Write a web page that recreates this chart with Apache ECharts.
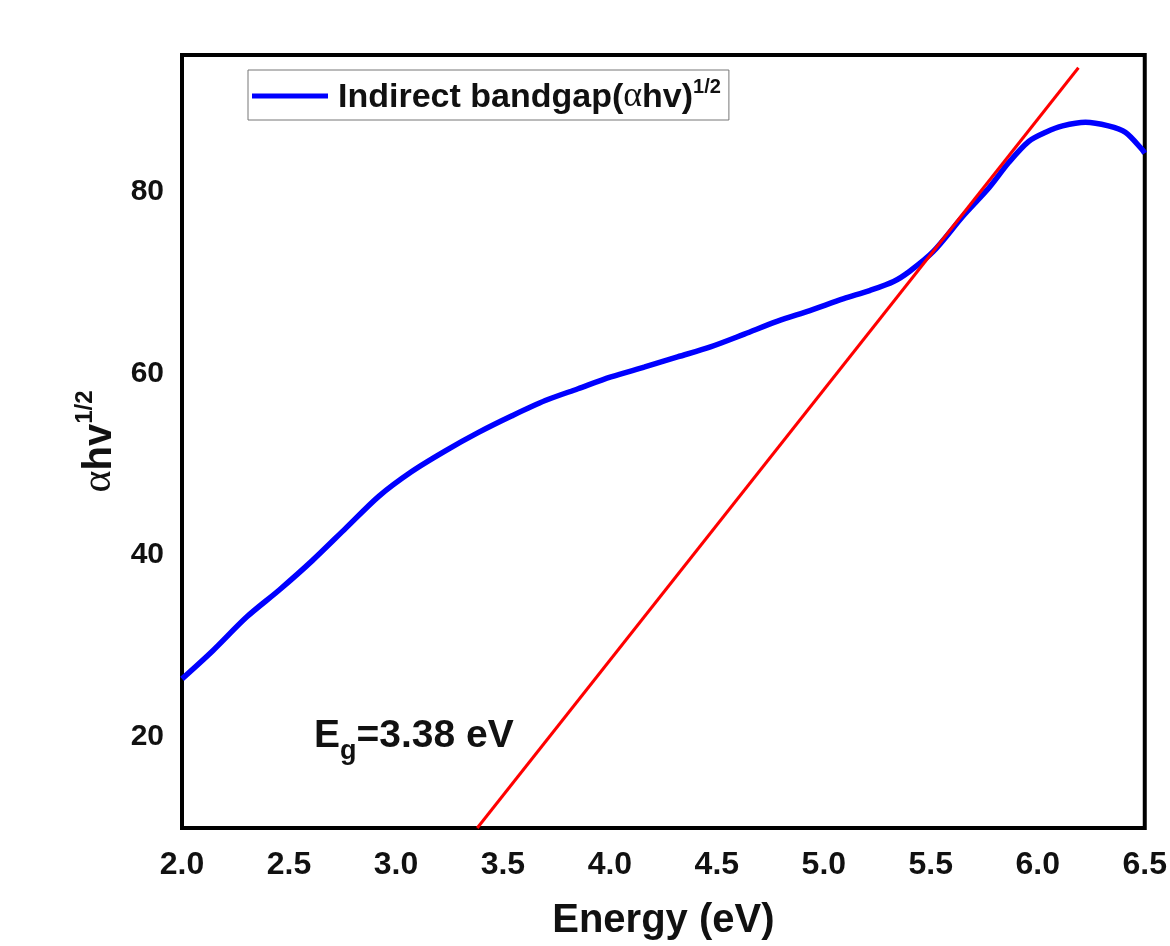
<!DOCTYPE html>
<html>
<head>
<meta charset="utf-8">
<script src="https://cdn.jsdelivr.net/npm/echarts@6/dist/echarts.min.js"></script>
<style>
  html, body { margin: 0; padding: 0; background: #fff; }
  #chart { width: 1170px; height: 946px; }
</style>
</head>
<body>
<div id="chart"></div>
<script>
// Photon energy (eV) and (αhν)^1/2 of the measured absorption curve
const energy = [2.00, 2.144, 2.302, 2.456, 2.609, 2.767, 2.921, 3.074, 3.233, 3.386,
                3.540, 3.698, 3.851, 4.005, 4.163, 4.316, 4.470, 4.628, 4.781, 4.935,
                5.093, 5.214, 5.326, 5.400, 5.512, 5.651, 5.772, 5.865, 5.958, 6.037,
                6.116, 6.223, 6.330, 6.409, 6.488, 6.50];
const absorb = [26.4, 29.5, 33.2, 36.2, 39.4, 43.0, 46.5, 49.2, 51.5, 53.5,
                55.3, 57.0, 58.3, 59.6, 60.7, 61.8, 62.9, 64.3, 65.7, 66.9,
                68.2, 69.1, 70.1, 71.2, 73.4, 77.3, 80.4, 83.2, 85.5, 86.5,
                87.2, 87.6, 87.2, 86.5, 84.6, 84.2];

// Linear extrapolation of the absorption edge
const bandGap = 3.38;
const fitEnergy = [bandGap, 6.19];
const fitValue = [10, 93.6];

// Axis ranges and labelled ticks
const xRange = [2.0, 6.5];
const xStep = 0.5;
const yRange = [10, 95];
const yTicks = [20, 40, 60, 80];

const SANS = '"Liberation Sans", Arial, Helvetica, sans-serif';
const SERIF = '"Liberation Serif", "Times New Roman", serif';

const curve = energy.map((e, i) => [e, absorb[i]]);
const fit = fitEnergy.map((e, i) => [e, fitValue[i]]);

const chart = echarts.init(document.getElementById('chart'), null, { renderer: 'canvas' });

chart.setOption({
  backgroundColor: '#ffffff',
  animation: false,
  grid: {
    left: 182, right: 21, top: 55, bottom: 115,
    show: true, borderColor: '#000', borderWidth: 4, backgroundColor: 'transparent'
  },
  legend: {
    data: ['Indirect bandgap'],
    left: 248, top: 70,
    padding: [7, 8, 5, 4],
    borderColor: '#777', borderWidth: 1, backgroundColor: '#fff',
    itemWidth: 76, itemHeight: 5,
    icon: 'rect',
    itemStyle: { color: '#0000ff' },
    formatter: () => '{p|Indirect bandgap(}{a|α}{b|hv)}{s|1/2}',
    textStyle: {
      rich: {
        p: { fontFamily: SANS, fontWeight: 'bold', fontSize: 34, color: '#111', lineHeight: 38, verticalAlign: 'bottom', padding: [0, 0, 0, 5] },
        b: { fontFamily: SANS, fontWeight: 'bold', fontSize: 34, color: '#111', lineHeight: 38, verticalAlign: 'bottom' },
        a: { fontFamily: SERIF, fontSize: 36, color: '#111', lineHeight: 38, verticalAlign: 'bottom' },
        s: { fontFamily: SANS, fontWeight: 'bold', fontSize: 20, color: '#111', lineHeight: 30, verticalAlign: 'top' }
      }
    }
  },
  xAxis: {
    type: 'value',
    min: xRange[0], max: xRange[1], interval: xStep,
    name: 'Energy (eV)',
    nameLocation: 'middle', nameGap: 73,
    nameTextStyle: { fontFamily: SANS, fontWeight: 'bold', fontSize: 40, color: '#111' },
    axisLine: { show: false },
    axisTick: { show: false },
    splitLine: { show: false },
    axisLabel: {
      margin: 21,
      fontFamily: SANS, fontWeight: 'bold', fontSize: 32, color: '#111',
      formatter: v => v.toFixed(1)
    }
  },
  yAxis: {
    type: 'value',
    min: yRange[0], max: yRange[1],
    name: '{a|α}{b|hv}{s|1/2}',
    nameLocation: 'middle', nameGap: 53, nameRotate: 90,
    nameTextStyle: {
      rich: {
        a: { fontFamily: SERIF, fontSize: 42, color: '#111', lineHeight: 46, verticalAlign: 'bottom' },
        b: { fontFamily: SANS, fontWeight: 'bold', fontSize: 40, color: '#111', lineHeight: 46, verticalAlign: 'bottom' },
        s: { fontFamily: SANS, fontWeight: 'bold', fontSize: 24, color: '#111', lineHeight: 40, verticalAlign: 'top' }
      }
    },
    axisLine: { show: false },
    axisTick: { show: false },
    splitLine: { show: false },
    axisLabel: {
      margin: 18,
      customValues: yTicks,
      fontFamily: SANS, fontWeight: 'bold', fontSize: 30, color: '#111'
    }
  },
  series: [
    {
      name: 'Indirect bandgap',
      type: 'line',
      data: curve,
      smooth: 0.3,
      symbol: 'none',
      lineStyle: { color: '#0000ff', width: 5.5 },
      itemStyle: { color: '#0000ff' },
      z: 3
    },
    {
      name: 'Linear fit',
      type: 'line',
      data: fit,
      symbol: 'none',
      lineStyle: { color: '#ff0000', width: 3 },
      itemStyle: { color: '#ff0000' },
      z: 4
    }
  ],
  graphic: [
    {
      type: 'text',
      left: 314, top: 717,
      style: {
        text: '{e|E}{g|g}{e|=' + bandGap.toFixed(2) + ' eV}',
        rich: {
          e: { fontFamily: SANS, fontWeight: 'bold', fontSize: 39, fill: '#111', lineHeight: 40, verticalAlign: 'top' },
          g: { fontFamily: SANS, fontWeight: 'bold', fontSize: 27, fill: '#111', lineHeight: 48, verticalAlign: 'bottom' }
        }
      }
    }
  ]
});
</script>
</body>
</html>
